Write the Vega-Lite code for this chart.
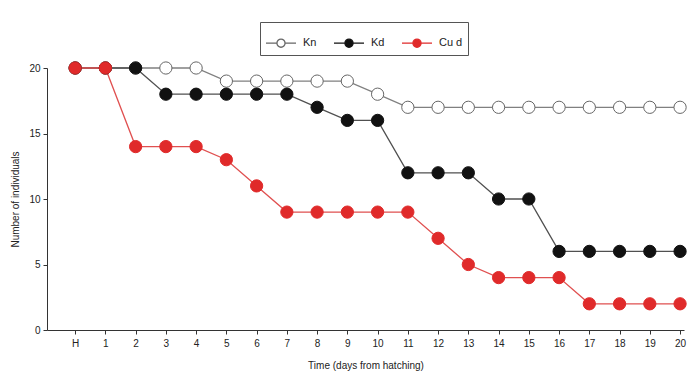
{
  "$schema": "https://vega.github.io/schema/vega-lite/v6.json",
  "width": 637,
  "height": 262,
  "autosize": "none",
  "padding": {"left": 47, "top": 68, "right": 16, "bottom": 45},
  "background": "white",
  "config": {
    "view": {"stroke": null},
    "font": "Liberation Sans",
    "axis": {"grid": false, "domainColor": "#333", "tickColor": "#333", "labelColor": "#222", "titleColor": "#222", "labelFontSize": 10, "titleFontSize": 10, "titleFontWeight": "normal", "tickSize": 4},
    "legend": {"orient": "none", "legendX": 213, "legendY": -46, "direction": "horizontal", "strokeColor": "#555", "title": null, "padding": 5, "columnPadding": 14, "labelFontSize": 11, "labelColor": "#222", "labelOffset": 6, "symbolOpacity": 1, "symbolStrokeWidth": 1.3}
  },
  "data": {
    "values": [
      {"day": 0, "series": "Kn", "n": 20}, {"day": 1, "series": "Kn", "n": 20}, {"day": 2, "series": "Kn", "n": 20}, {"day": 3, "series": "Kn", "n": 20}, {"day": 4, "series": "Kn", "n": 20}, {"day": 5, "series": "Kn", "n": 19}, {"day": 6, "series": "Kn", "n": 19}, {"day": 7, "series": "Kn", "n": 19}, {"day": 8, "series": "Kn", "n": 19}, {"day": 9, "series": "Kn", "n": 19}, {"day": 10, "series": "Kn", "n": 18}, {"day": 11, "series": "Kn", "n": 17}, {"day": 12, "series": "Kn", "n": 17}, {"day": 13, "series": "Kn", "n": 17}, {"day": 14, "series": "Kn", "n": 17}, {"day": 15, "series": "Kn", "n": 17}, {"day": 16, "series": "Kn", "n": 17}, {"day": 17, "series": "Kn", "n": 17}, {"day": 18, "series": "Kn", "n": 17}, {"day": 19, "series": "Kn", "n": 17}, {"day": 20, "series": "Kn", "n": 17},
      {"day": 0, "series": "Kd", "n": 20}, {"day": 1, "series": "Kd", "n": 20}, {"day": 2, "series": "Kd", "n": 20}, {"day": 3, "series": "Kd", "n": 18}, {"day": 4, "series": "Kd", "n": 18}, {"day": 5, "series": "Kd", "n": 18}, {"day": 6, "series": "Kd", "n": 18}, {"day": 7, "series": "Kd", "n": 18}, {"day": 8, "series": "Kd", "n": 17}, {"day": 9, "series": "Kd", "n": 16}, {"day": 10, "series": "Kd", "n": 16}, {"day": 11, "series": "Kd", "n": 12}, {"day": 12, "series": "Kd", "n": 12}, {"day": 13, "series": "Kd", "n": 12}, {"day": 14, "series": "Kd", "n": 10}, {"day": 15, "series": "Kd", "n": 10}, {"day": 16, "series": "Kd", "n": 6}, {"day": 17, "series": "Kd", "n": 6}, {"day": 18, "series": "Kd", "n": 6}, {"day": 19, "series": "Kd", "n": 6}, {"day": 20, "series": "Kd", "n": 6},
      {"day": 0, "series": "Cu d", "n": 20}, {"day": 1, "series": "Cu d", "n": 20}, {"day": 2, "series": "Cu d", "n": 14}, {"day": 3, "series": "Cu d", "n": 14}, {"day": 4, "series": "Cu d", "n": 14}, {"day": 5, "series": "Cu d", "n": 13}, {"day": 6, "series": "Cu d", "n": 11}, {"day": 7, "series": "Cu d", "n": 9}, {"day": 8, "series": "Cu d", "n": 9}, {"day": 9, "series": "Cu d", "n": 9}, {"day": 10, "series": "Cu d", "n": 9}, {"day": 11, "series": "Cu d", "n": 9}, {"day": 12, "series": "Cu d", "n": 7}, {"day": 13, "series": "Cu d", "n": 5}, {"day": 14, "series": "Cu d", "n": 4}, {"day": 15, "series": "Cu d", "n": 4}, {"day": 16, "series": "Cu d", "n": 4}, {"day": 17, "series": "Cu d", "n": 2}, {"day": 18, "series": "Cu d", "n": 2}, {"day": 19, "series": "Cu d", "n": 2}, {"day": 20, "series": "Cu d", "n": 2}
    ]
  },
  "encoding": {
    "x": {"field": "day", "type": "quantitative", "scale": {"domain": [-0.93, 20.13], "nice": false, "zero": false},
      "axis": {"values": [0,1,2,3,4,5,6,7,8,9,10,11,12,13,14,15,16,17,18,19,20], "labelExpr": "datum.value == 0 ? 'H' : datum.label", "title": "Time (days from hatching)", "titlePadding": 12, "labelPadding": 4}},
    "y": {"field": "n", "type": "quantitative", "scale": {"domain": [0, 20], "nice": false},
      "axis": {"values": [0, 5, 10, 15, 20], "title": "Number of individuals", "titlePadding": 8, "labelPadding": 3}}
  },
  "layer": [
    {
      "mark": {"type": "line", "strokeWidth": 1.3},
      "encoding": {
        "color": {"field": "series", "type": "nominal",
          "scale": {"range": ["#e05050", "#505050", "#808080"]},
          "legend": null}
      }
    },
    {
      "mark": {"type": "point", "filled": false, "size": 150, "strokeWidth": 1, "opacity": 1},
      "encoding": {
        "stroke": {"field": "series", "type": "nominal",
          "scale": {"domain": ["Kn", "Kd", "Cu d"], "range": ["#666666", "#111111", "#e02a2a"]},
          "legend": {"symbolType": "M-1,0H-0.27M0.27,0H1M-0.27,0A0.27,0.27,0,1,0,0.27,0A0.27,0.27,0,1,0,-0.27,0Z", "symbolSize": 900}},
        "fill": {"field": "series", "type": "nominal",
          "scale": {"domain": ["Kn", "Kd", "Cu d"], "range": ["#ffffff", "#111111", "#e02a2a"]}}
      }
    }
  ]
}
